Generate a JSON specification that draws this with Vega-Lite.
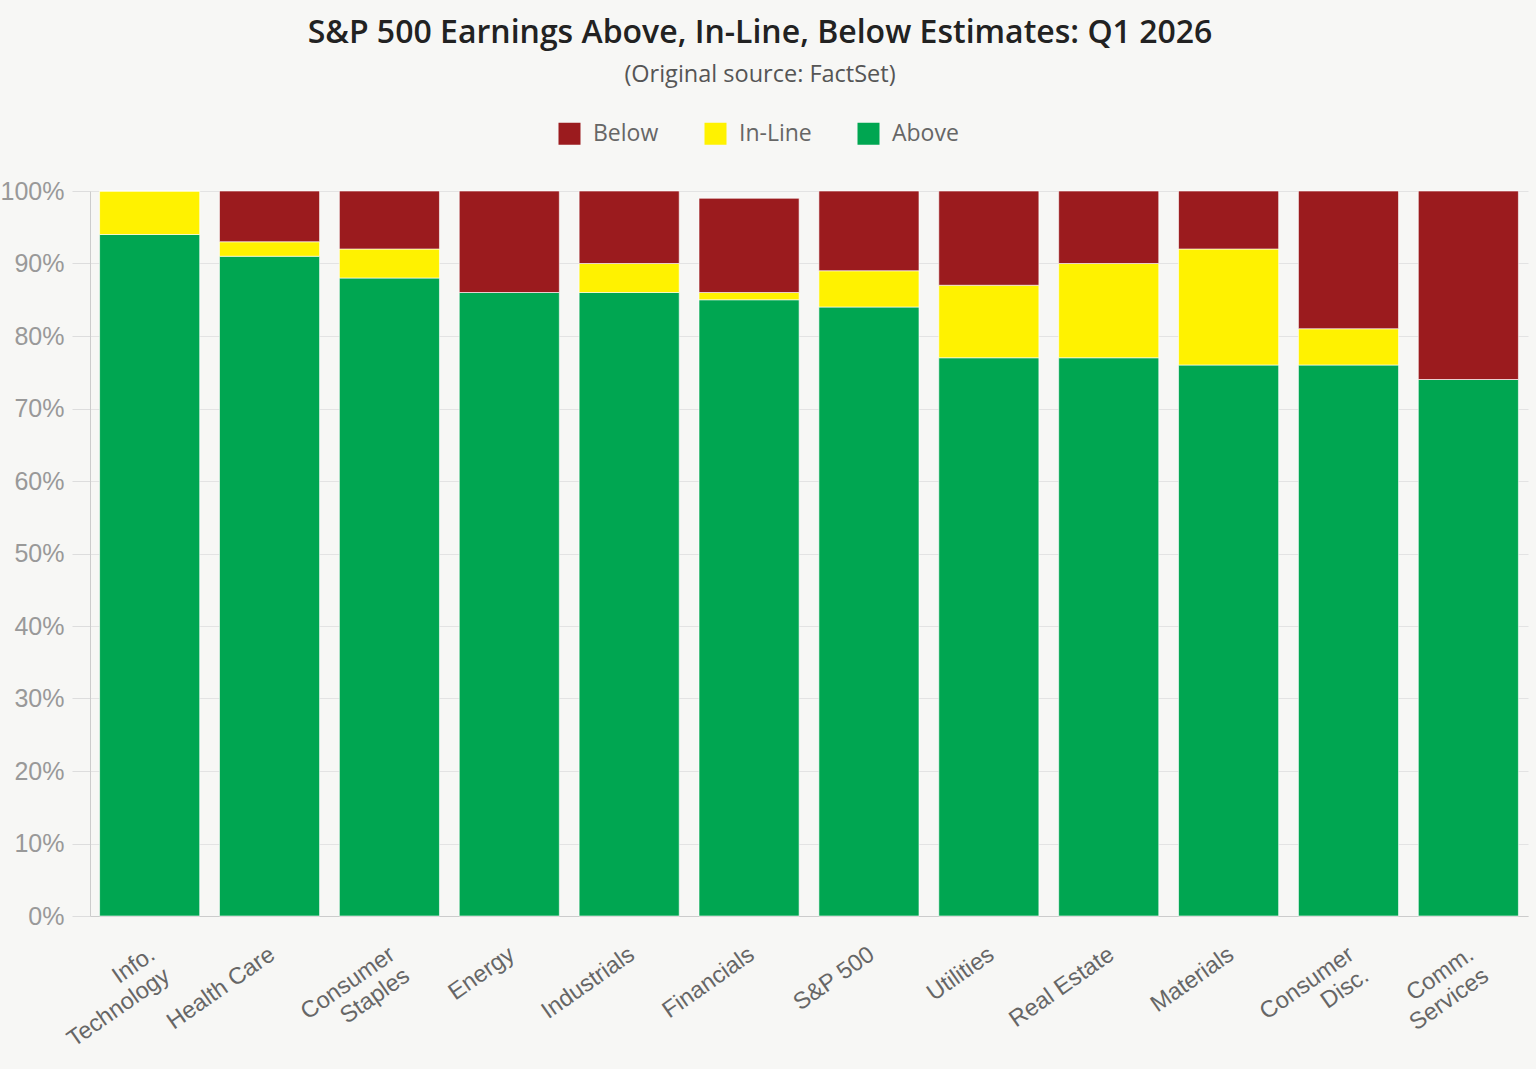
{
  "$schema": "https://vega.github.io/schema/vega-lite/v6.json",
  "autosize": {"type": "none"},
  "width": 1438,
  "height": 725,
  "padding": {"left": 90, "top": 191, "right": 8, "bottom": 153},
  "background": "#f7f7f5",
  "title": {
    "text": "S&P 500 Earnings Above, In-Line, Below Estimates: Q1 2026",
    "subtitle": "(Original source: FactSet)",
    "anchor": "middle",
    "dx": -49,
    "offset": 35,
    "font": "Open Sans",
    "fontSize": 32,
    "fontWeight": 600,
    "color": "#222222",
    "subtitleFont": "Open Sans",
    "subtitleFontSize": 23.5,
    "subtitleColor": "#555555",
    "subtitlePadding": 13
  },
  "data": {
    "values": [
      {"sector": "Info.|Technology", "result": "Above", "rank": 1, "pct": 94},
      {"sector": "Info.|Technology", "result": "In-Line", "rank": 2, "pct": 6},
      {"sector": "Info.|Technology", "result": "Below", "rank": 3, "pct": 0},
      {"sector": "Health Care", "result": "Above", "rank": 1, "pct": 91},
      {"sector": "Health Care", "result": "In-Line", "rank": 2, "pct": 2},
      {"sector": "Health Care", "result": "Below", "rank": 3, "pct": 7},
      {"sector": "Consumer|Staples", "result": "Above", "rank": 1, "pct": 88},
      {"sector": "Consumer|Staples", "result": "In-Line", "rank": 2, "pct": 4},
      {"sector": "Consumer|Staples", "result": "Below", "rank": 3, "pct": 8},
      {"sector": "Energy", "result": "Above", "rank": 1, "pct": 86},
      {"sector": "Energy", "result": "In-Line", "rank": 2, "pct": 0},
      {"sector": "Energy", "result": "Below", "rank": 3, "pct": 14},
      {"sector": "Industrials", "result": "Above", "rank": 1, "pct": 86},
      {"sector": "Industrials", "result": "In-Line", "rank": 2, "pct": 4},
      {"sector": "Industrials", "result": "Below", "rank": 3, "pct": 10},
      {"sector": "Financials", "result": "Above", "rank": 1, "pct": 85},
      {"sector": "Financials", "result": "In-Line", "rank": 2, "pct": 1},
      {"sector": "Financials", "result": "Below", "rank": 3, "pct": 13},
      {"sector": "S&P 500", "result": "Above", "rank": 1, "pct": 84},
      {"sector": "S&P 500", "result": "In-Line", "rank": 2, "pct": 5},
      {"sector": "S&P 500", "result": "Below", "rank": 3, "pct": 11},
      {"sector": "Utilities", "result": "Above", "rank": 1, "pct": 77},
      {"sector": "Utilities", "result": "In-Line", "rank": 2, "pct": 10},
      {"sector": "Utilities", "result": "Below", "rank": 3, "pct": 13},
      {"sector": "Real Estate", "result": "Above", "rank": 1, "pct": 77},
      {"sector": "Real Estate", "result": "In-Line", "rank": 2, "pct": 13},
      {"sector": "Real Estate", "result": "Below", "rank": 3, "pct": 10},
      {"sector": "Materials", "result": "Above", "rank": 1, "pct": 76},
      {"sector": "Materials", "result": "In-Line", "rank": 2, "pct": 16},
      {"sector": "Materials", "result": "Below", "rank": 3, "pct": 8},
      {"sector": "Consumer|Disc.", "result": "Above", "rank": 1, "pct": 76},
      {"sector": "Consumer|Disc.", "result": "In-Line", "rank": 2, "pct": 5},
      {"sector": "Consumer|Disc.", "result": "Below", "rank": 3, "pct": 19},
      {"sector": "Comm.|Services", "result": "Above", "rank": 1, "pct": 74},
      {"sector": "Comm.|Services", "result": "In-Line", "rank": 2, "pct": 0},
      {"sector": "Comm.|Services", "result": "Below", "rank": 3, "pct": 26}
    ]
  },
  "mark": {"type": "bar", "stroke": "#ffffff", "strokeWidth": 1, "strokeOpacity": 0.6},
  "encoding": {
    "x": {
      "field": "sector",
      "type": "nominal",
      "sort": null,
      "title": null,
      "scale": {"paddingInner": 0.165, "paddingOuter": 0.08},
      "axis": {
        "labelExpr": "split(datum.value, '|')",
        "labelAngle": -35,
        "labelAlign": "right",
        "labelBaseline": "top",
        "labelFont": "Arial",
        "labelFontSize": 23.5,
        "labelColor": "#666666",
        "labelPadding": 26,
        "labelOffset": -4,
        "labelLineHeight": 26,
        "ticks": false,
        "domain": true,
        "domainColor": "#cccccc",
        "domainWidth": 1,
        "grid": false
      }
    },
    "y": {
      "field": "pct",
      "type": "quantitative",
      "stack": "zero",
      "title": null,
      "scale": {"domain": [0, 100], "nice": false},
      "axis": {
        "values": [0, 10, 20, 30, 40, 50, 60, 70, 80, 90, 100],
        "labelExpr": "datum.value + '%'",
        "labelFont": "Arial",
        "labelFontSize": 25,
        "labelColor": "#999999",
        "labelPadding": 8,
        "tickSize": 18,
        "tickColor": "#dddddd",
        "gridColor": "#e3e3e3",
        "domain": true,
        "domainColor": "#cccccc",
        "labelBound": false
      }
    },
    "color": {
      "field": "result",
      "type": "nominal",
      "title": null,
      "scale": {"domain": ["Below", "In-Line", "Above"], "range": ["#9b1b1e", "#fff200", "#00a651"]},
      "legend": {
        "orient": "none",
        "legendX": 468,
        "legendY": -69,
        "direction": "horizontal",
        "symbolType": "square",
        "symbolSize": 484,
        "symbolStrokeWidth": 0,
        "labelFont": "Open Sans",
        "labelFontSize": 23,
        "labelColor": "#666666",
        "labelOffset": 12,
        "columnPadding": 45
      }
    },
    "order": {"field": "rank", "type": "quantitative"}
  },
  "config": {"view": {"stroke": null}}
}
